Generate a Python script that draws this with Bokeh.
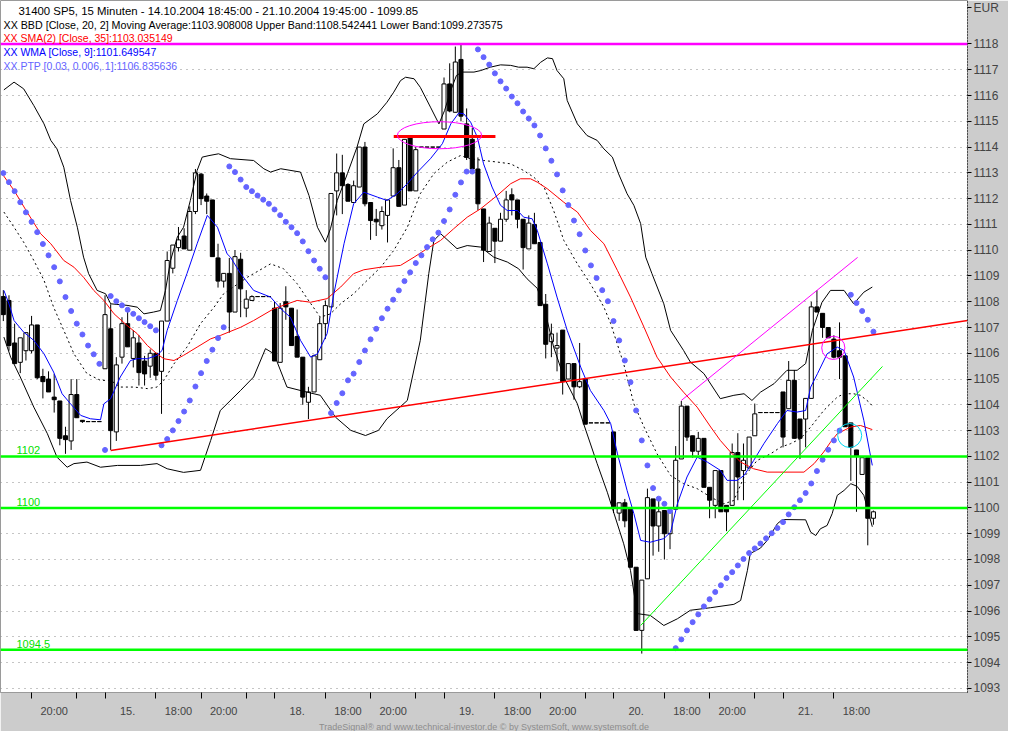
from bokeh.plotting import figure
from bokeh.models import Range1d, LinearAxis, FixedTicker, Span, Label, Title, Grid, ColumnDataSource
from bokeh.embed import file_html
from bokeh.resources import INLINE

# ---------------- data (bar index 0 = first bar of 15.10.) ----------------
BAR_START, BAR_END = -18, 136

O14 = [1108.2, 1108.05, 1106.4, 1105.65, 1106.1, 1106.1, 1107.1, 1105.1, 1105.0, 1104.3, 1104.15, 1102.8, 1102.6, 1104.4, 1103.4, 1103.35, 1103.35, 1103.35]
H14 = [1108.45, 1108.25, 1107.15, 1106.6, 1106.8, 1107.45, 1107.1, 1105.4, 1105.3, 1105.2, 1104.15, 1103.15, 1105.0, 1105.0, 1103.4, 1103.35, 1103.35, 1103.35]
L14 = [1107.25, 1106.1, 1105.6, 1105.23, 1105.72, 1106.0, 1105.0, 1104.25, 1104.5, 1103.7, 1102.43, 1102.1, 1102.25, 1103.5, 1103.3, 1103.35, 1103.35, 1103.35]
C14 = [1107.5, 1106.3, 1105.6, 1106.6, 1106.8, 1107.1, 1105.05, 1104.9, 1104.5, 1104.2, 1102.7, 1102.65, 1104.4, 1103.5, 1103.35, 1103.35, 1103.35, 1103.35]

O15 = [1105.4, 1106.95, 1102.95, 1105.85, 1107.15, 1105.8, 1106.4, 1105.7, 1105.5, 1106.0, 1105.3, 1107.25, 1109.3, 1110.1, 1110.55, 1110.0, 1111.5, 1112.95, 1112.1, 1111.95, 1109.7, 1108.8, 1109.1, 1107.6, 1109.65, 1107.75, 1108.05, 1108.2, 1108.2, 1108.2]
H15 = [1108.25, 1107.9, 1105.85, 1107.4, 1107.74, 1106.9, 1106.7, 1105.9, 1106.15, 1106.0, 1107.25, 1109.95, 1110.2, 1110.9, 1110.85, 1111.7, 1113.15, 1113.0, 1112.2, 1111.95, 1110.25, 1109.1, 1109.7, 1110.0, 1109.9, 1108.45, 1108.25, 1108.2, 1108.2, 1108.2]
L15 = [1105.4, 1102.25, 1102.6, 1105.6, 1106.25, 1105.45, 1104.75, 1104.75, 1105.05, 1104.95, 1103.65, 1107.25, 1109.1, 1109.95, 1110.05, 1110.0, 1111.4, 1111.75, 1111.4, 1109.75, 1108.55, 1108.55, 1106.8, 1107.6, 1107.4, 1107.4, 1108.05, 1108.2, 1108.2, 1108.2]
C15 = [1107.5, 1103.0, 1105.55, 1107.15, 1106.25, 1106.6, 1105.25, 1105.2, 1106.0, 1105.15, 1107.25, 1109.6, 1110.2, 1110.4, 1110.05, 1111.5, 1113.0, 1112.0, 1111.9, 1109.75, 1108.8, 1109.1, 1107.6, 1109.75, 1108.5, 1108.1, 1108.2, 1108.2, 1108.2, 1108.2]

O18 = [1107.75, 1105.65, 1108.0, 1107.75, 1106.65, 1105.85, 1104.1, 1104.5, 1105.75, 1107.15, 1107.8, 1112.3, 1113.0, 1112.55, 1111.85, 1112.45, 1114.0, 1111.85, 1111.2, 1110.95, 1111.35, 1112.1, 1113.2, 1111.75, 1114.4, 1112.3, 1114.0, 1114.0, 1114.0, 1114.0]
H18 = [1108.0, 1107.95, 1108.6, 1107.75, 1107.7, 1105.85, 1104.7, 1105.95, 1107.4, 1108.05, 1112.2, 1113.75, 1113.7, 1112.6, 1112.7, 1114.0, 1114.2, 1111.85, 1111.6, 1111.7, 1111.95, 1113.95, 1113.5, 1114.3, 1114.4, 1114.0, 1114.0, 1114.0, 1114.0, 1114.0]
L18 = [1105.7, 1105.65, 1107.3, 1106.3, 1105.85, 1104.0, 1103.45, 1104.5, 1105.75, 1106.55, 1107.8, 1111.35, 1111.4, 1111.9, 1111.85, 1112.45, 1111.7, 1110.4, 1110.55, 1110.8, 1110.3, 1112.1, 1111.7, 1111.75, 1112.3, 1112.3, 1114.0, 1114.0, 1114.0, 1114.0]
C18 = [1105.7, 1107.75, 1107.8, 1106.3, 1105.85, 1104.3, 1104.5, 1105.9, 1107.15, 1107.85, 1112.2, 1113.0, 1112.5, 1111.9, 1112.5, 1114.0, 1111.8, 1111.15, 1111.1, 1111.5, 1111.95, 1113.2, 1111.7, 1114.3, 1112.3, 1113.9, 1114.0, 1114.0, 1114.0, 1114.0]

O19 = [1114.7, 1116.45, 1115.35, 1117.4, 1114.9, 1114.3, 1113.15, 1111.6, 1109.95, 1110.85, 1110.35, 1111.2, 1112.15, 1111.95, 1111.2, 1110.05, 1111.0, 1110.3, 1107.9, 1106.45, 1106.2, 1106.9, 1105.0, 1105.6, 1104.7, 1105.0, 1103.3, 1103.3, 1103.3, 1103.3]
H19 = [1116.7, 1117.25, 1117.9, 1118.0, 1115.5, 1114.75, 1113.6, 1111.6, 1111.3, 1110.85, 1111.45, 1112.3, 1112.4, 1111.95, 1111.2, 1111.35, 1111.45, 1110.3, 1108.3, 1107.15, 1106.8, 1106.9, 1105.6, 1105.6, 1106.4, 1105.0, 1103.3, 1103.3, 1103.3, 1103.3]
L19 = [1114.7, 1115.35, 1115.35, 1115.0, 1113.5, 1113.05, 1111.55, 1109.54, 1109.95, 1109.5, 1110.35, 1111.1, 1111.35, 1110.85, 1109.25, 1110.05, 1110.25, 1107.85, 1105.8, 1105.85, 1105.3, 1104.4, 1105.0, 1104.2, 1104.65, 1103.25, 1103.3, 1103.3, 1103.3, 1103.3]
C19 = [1116.45, 1115.4, 1117.3, 1115.2, 1113.6, 1113.15, 1111.8, 1110.0, 1111.05, 1110.35, 1111.2, 1111.95, 1111.95, 1111.2, 1110.1, 1111.05, 1110.25, 1107.85, 1106.35, 1106.75, 1106.3, 1104.9, 1105.6, 1104.7, 1104.9, 1103.25, 1103.3, 1103.3, 1103.3, 1103.3]

O20 = [1102.95, 1099.8, 1100.2, 1100.0, 1097.7, 1095.25, 1097.25, 1100.35, 1099.3, 1099.9, 1099.0, 1099.95, 1101.9, 1103.95, 1102.8, 1102.2, 1102.7, 1100.8, 1100.1, 1101.45, 1100.1, 1100.1, 1102.15, 1101.45, 1101.55, 1102.8, 1103.7, 1103.7, 1103.7, 1103.7]
H20 = [1102.95, 1100.2, 1100.35, 1100.0, 1097.7, 1097.2, 1100.75, 1100.35, 1100.3, 1099.9, 1099.85, 1102.4, 1104.15, 1103.95, 1102.8, 1102.95, 1102.7, 1100.8, 1101.45, 1101.45, 1100.1, 1102.5, 1102.9, 1102.5, 1102.75, 1104.05, 1103.7, 1103.7, 1103.7, 1103.7]
L20 = [1099.8, 1099.5, 1099.25, 1097.7, 1095.25, 1094.35, 1097.25, 1098.15, 1098.3, 1098.0, 1098.4, 1099.95, 1101.9, 1102.6, 1101.95, 1102.05, 1100.8, 1099.6, 1099.6, 1099.85, 1099.1, 1100.1, 1100.3, 1100.3, 1101.55, 1102.8, 1103.7, 1103.7, 1103.7, 1103.7]
C20 = [1100.05, 1100.2, 1099.5, 1097.7, 1095.25, 1097.2, 1100.4, 1099.3, 1099.85, 1099.0, 1099.85, 1101.85, 1103.95, 1102.75, 1102.2, 1102.7, 1100.8, 1100.3, 1101.45, 1099.85, 1099.85, 1102.15, 1101.2, 1101.85, 1102.75, 1103.65, 1103.7, 1103.7, 1103.7, 1103.7]

O21 = [1104.5, 1103.85, 1104.95, 1103.45, 1103.45, 1104.25, 1107.8, 1107.55, 1107.0, 1106.55, 1106.1, 1105.9, 1103.3, 1102.25, 1101.3, 1101.95, 1099.6]
H21 = [1104.5, 1105.7, 1105.35, 1103.45, 1104.25, 1108.0, 1108.45, 1107.55, 1107.0, 1106.7, 1107.2, 1105.9, 1103.3, 1102.25, 1101.95, 1101.95, 1099.9]
L21 = [1102.35, 1103.85, 1102.7, 1101.9, 1102.35, 1104.25, 1107.6, 1106.6, 1106.6, 1105.8, 1105.0, 1103.15, 1101.05, 1099.85, 1101.3, 1098.55, 1099.35]
C21 = [1102.75, 1104.95, 1102.7, 1102.7, 1104.25, 1107.8, 1107.6, 1107.0, 1106.6, 1105.85, 1105.85, 1103.15, 1102.35, 1102.0, 1101.95, 1099.6, 1099.85]

OPEN = O14 + O15 + O18 + O19 + O20 + O21
HIGH = H14 + H15 + H18 + H19 + H20 + H21
LOW = L14 + L15 + L18 + L19 + L20 + L21
CLOSE = C14 + C15 + C18 + C19 + C20 + C21
BARS = list(range(BAR_START, BAR_END + 1))

# Bollinger bands (20, 2)
UB_G = [-17.9, -16.1, -14.4, -12.6, -10.8, -9.6, -8.5, -7.3, -6.1, -4.9, -3.8, -2.9, -1.4, 0.1, 1.0, 3.9, 5.7, 6.9, 8.6, 9.8, 10.7, 11.6, 12.8, 13.9, 15.1, 16.3, 17.2, 18.4, 20.1, 22.2, 26.3, 28.1, 29.3, 31.1, 34.6, 36.1, 37.6, 39.0, 39.9, 41.1, 42.9, 44.6, 45.8, 48.2, 49.9, 51.1, 52.3, 53.2, 54.7, 55.8, 57.6, 59.1, 60.1, 61.2, 62.2, 63.2, 65.3, 66.5, 68.2, 70.0, 71.8, 73.2, 74.7, 75.9, 77.1, 78.3, 79.2, 80.0, 81.2, 81.8, 83.6, 85.3, 87.1, 88.3, 89.8, 90.9, 92.4, 93.6, 94.8, 95.7, 96.8, 98.9, 100.1, 102.4, 103.6, 106.0, 108.9, 111.3, 113.1, 114.5, 116.0, 118.4, 120.7, 122.5, 124.0, 125.2, 126.9, 128.4, 130.8, 132.5, 134.3, 135.8]
UB_V = [1116.22, 1116.52, 1116.26, 1115.61, 1114.90, 1114.26, 1113.93, 1113.22, 1111.93, 1110.89, 1109.73, 1109.09, 1108.44, 1108.31, 1107.92, 1107.86, 1107.79, 1107.53, 1107.60, 1107.66, 1108.44, 1109.60, 1110.51, 1110.89, 1111.93, 1113.09, 1113.61, 1113.67, 1113.74, 1113.55, 1113.48, 1113.16, 1113.03, 1113.16, 1113.03, 1112.12, 1110.89, 1110.31, 1110.83, 1111.93, 1112.97, 1114.00, 1114.90, 1115.29, 1115.74, 1116.13, 1116.58, 1116.71, 1116.65, 1116.32, 1115.55, 1114.90, 1115.42, 1116.20, 1116.78, 1116.91, 1116.91, 1116.97, 1117.10, 1117.19, 1117.17, 1117.10, 1117.10, 1117.04, 1117.29, 1117.46, 1117.43, 1116.97, 1116.65, 1115.81, 1114.90, 1114.45, 1114.26, 1113.93, 1113.61, 1112.96, 1112.19, 1111.74, 1111.03, 1109.73, 1109.09, 1107.92, 1106.89, 1106.11, 1105.66, 1105.21, 1104.24, 1104.37, 1104.43, 1104.17, 1104.49, 1104.82, 1105.34, 1105.34, 1105.60, 1106.89, 1107.98, 1108.44, 1108.44, 1107.92, 1108.37, 1108.57]

LB_G = [-17.9, -16.7, -15.0, -12.6, -10.2, -8.5, -6.7, -5.5, -3.2, -0.8, 2.2, 6.3, 9.2, 11.0, 13.9, 16.9, 18.7, 20.4, 24.0, 26.3, 28.4, 29.9, 32.2, 35.8, 38.1, 40.8, 43.5, 46.1, 48.4, 49.9, 53.5, 55.8, 57.3, 58.2, 59.4, 62.3, 64.1, 66.5, 68.8, 71.2, 73.2, 74.7, 76.5, 77.7, 79.4, 81.2, 83.6, 84.7, 87.1, 88.9, 90.1, 91.8, 93.0, 94.2, 96.5, 98.9, 101.3, 103.6, 107.2, 111.3, 112.5, 113.7, 114.2, 116.0, 117.2, 119.0, 119.9, 124.0, 124.9, 125.8, 126.6, 127.8, 128.7, 129.6, 130.8, 132.0, 133.1, 134.3, 135.8]
LB_V = [1106.63, 1105.85, 1105.08, 1103.91, 1102.88, 1101.97, 1101.58, 1101.72, 1101.78, 1101.58, 1101.65, 1101.65, 1101.72, 1101.52, 1101.38, 1101.46, 1102.62, 1103.78, 1104.56, 1105.08, 1106.18, 1105.98, 1104.69, 1104.49, 1104.37, 1103.52, 1103.01, 1102.81, 1103.01, 1103.46, 1104.17, 1106.50, 1109.09, 1110.38, 1110.64, 1110.06, 1110.18, 1110.12, 1109.73, 1109.54, 1109.28, 1108.89, 1108.52, 1107.79, 1106.24, 1105.08, 1104.04, 1103.27, 1101.72, 1100.61, 1099.78, 1098.61, 1097.58, 1095.90, 1095.83, 1095.44, 1095.70, 1096.03, 1096.13, 1096.26, 1096.41, 1097.58, 1098.23, 1098.44, 1098.74, 1099.39, 1099.55, 1099.54, 1099.06, 1098.93, 1099.19, 1099.32, 1099.78, 1100.49, 1100.68, 1100.94, 1100.84, 1100.49, 1099.27]

MID_G = [-17.9, -16.1, -14.4, -12.6, -10.8, -9.1, -7.3, -5.5, -3.2, -0.8, 1.0, 2.7, 5.1, 7.5, 9.2, 10.4, 12.2, 14.5, 16.9, 19.3, 21.0, 25.2, 29.3, 31.6, 34.0, 35.8, 38.1, 39.9, 41.7, 44.0, 46.4, 48.8, 51.1, 53.5, 55.8, 58.2, 60.6, 62.9, 64.7, 67.0, 69.4, 71.8, 74.1, 75.9, 77.7, 79.4, 81.2, 83.6, 85.9, 88.3, 89.5, 91.8, 93.6, 95.4, 97.7, 100.1, 102.4, 104.8, 107.2, 109.5, 111.3, 113.1, 115.4, 117.8, 119.6, 121.3, 123.1, 124.9, 127.2, 129.6, 130.8, 132.5, 133.7, 135.2, 136.0]
MID_V = [1111.48, 1110.89, 1110.31, 1109.60, 1108.83, 1107.79, 1106.89, 1105.98, 1105.21, 1104.95, 1104.95, 1104.69, 1104.69, 1104.63, 1104.69, 1104.95, 1105.59, 1106.24, 1107.15, 1107.79, 1108.31, 1108.95, 1109.47, 1109.28, 1108.70, 1108.12, 1107.40, 1107.53, 1107.92, 1108.31, 1108.83, 1109.34, 1109.99, 1110.89, 1112.19, 1112.97, 1113.42, 1113.67, 1113.55, 1113.48, 1113.42, 1113.35, 1113.09, 1112.83, 1112.45, 1111.54, 1110.38, 1109.47, 1108.70, 1107.79, 1107.15, 1105.59, 1104.04, 1103.14, 1102.10, 1101.26, 1100.94, 1100.75, 1100.42, 1100.16, 1100.29, 1101.20, 1101.84, 1102.10, 1102.36, 1102.49, 1102.69, 1103.14, 1103.78, 1104.30, 1104.43, 1104.43, 1104.37, 1104.11, 1103.91]

# SMA 35 (red)
SMA_G = [-18.0, -16.1, -13.8, -11.4, -9.6, -7.3, -5.5, -3.8, -2.0, -0.2, 1.6, 3.9, 5.7, 7.5, 9.2, 10.4, 12.2, 13.9, 16.3, 18.7, 20.4, 24.0, 26.3, 29.9, 34.0, 36.4, 39.3, 41.7, 44.0, 45.8, 48.8, 52.3, 54.7, 57.0, 59.4, 61.7, 64.1, 66.5, 69.4, 71.8, 73.5, 75.3, 76.5, 78.3, 81.2, 83.6, 85.9, 88.3, 90.7, 93.0, 95.4, 97.7, 100.1, 102.4, 104.8, 107.2, 108.9, 110.7, 112.5, 114.8, 117.2, 123.7, 125.5, 127.2, 128.4, 129.6, 132.0, 133.7, 135.8]
SMA_V = [1112.90, 1112.32, 1111.48, 1110.64, 1110.25, 1109.60, 1109.34, 1108.95, 1108.44, 1108.05, 1107.53, 1107.08, 1106.76, 1106.30, 1105.98, 1105.79, 1105.72, 1105.92, 1106.24, 1106.56, 1106.69, 1107.01, 1107.27, 1107.73, 1108.05, 1107.98, 1108.12, 1108.57, 1109.09, 1109.24, 1109.34, 1109.41, 1109.73, 1110.06, 1110.38, 1110.83, 1111.28, 1111.61, 1112.12, 1112.58, 1112.77, 1112.77, 1112.64, 1112.38, 1111.86, 1111.48, 1110.77, 1110.25, 1109.21, 1108.18, 1107.01, 1105.85, 1105.08, 1104.49, 1103.91, 1103.14, 1102.62, 1102.17, 1101.78, 1101.52, 1101.39, 1101.39, 1101.72, 1102.17, 1102.55, 1102.88, 1103.14, 1103.20, 1103.04]

# WMA 9 (blue)
WMA_G = [-17.9, -17.0, -16.1, -14.4, -12.6, -10.8, -9.1, -7.6, -6.1, -4.3, -2.6, -0.8, -0.2, 1.0, 2.7, 4.5, 5.7, 7.5, 9.2, 10.1, 11.0, 12.8, 14.5, 16.3, 18.1, 19.9, 21.6, 22.2, 24.0, 26.3, 29.3, 31.1, 32.8, 34.6, 36.4, 37.6, 39.3, 40.5, 42.3, 44.0, 45.8, 48.2, 49.9, 51.7, 53.5, 55.3, 57.6, 59.7, 61.2, 62.6, 63.5, 64.7, 65.9, 67.0, 68.5, 70.0, 71.2, 73.0, 74.1, 75.6, 76.5, 78.3, 80.0, 81.8, 84.2, 85.9, 88.3, 89.5, 90.7, 92.4, 93.6, 94.8, 96.5, 98.9, 100.1, 101.3, 103.0, 104.8, 106.6, 108.9, 110.1, 111.9, 113.1, 114.8, 116.6, 119.0, 120.7, 122.5, 124.0, 124.9, 126.1, 127.8, 129.6, 130.8, 132.5, 134.3, 135.8]
WMA_V = [1108.44, 1107.92, 1107.27, 1106.82, 1106.50, 1105.98, 1105.27, 1104.43, 1104.04, 1103.59, 1103.46, 1103.42, 1104.04, 1104.24, 1105.08, 1105.72, 1105.79, 1105.79, 1105.92, 1106.11, 1106.89, 1108.05, 1109.09, 1110.25, 1111.35, 1110.89, 1109.86, 1109.73, 1109.09, 1108.44, 1108.18, 1107.73, 1107.40, 1106.50, 1105.85, 1105.98, 1106.76, 1108.31, 1110.25, 1111.80, 1112.25, 1112.06, 1111.93, 1112.19, 1112.58, 1113.03, 1113.55, 1114.13, 1114.90, 1115.32, 1115.29, 1114.97, 1114.38, 1113.35, 1112.45, 1111.74, 1111.54, 1111.54, 1111.28, 1111.22, 1110.77, 1109.47, 1108.18, 1106.89, 1105.46, 1104.56, 1103.78, 1103.27, 1102.10, 1100.68, 1099.78, 1098.74, 1098.67, 1098.81, 1099.06, 1100.16, 1101.20, 1101.97, 1101.78, 1101.46, 1101.07, 1101.07, 1101.26, 1101.84, 1102.49, 1103.27, 1103.78, 1103.72, 1103.78, 1104.69, 1105.21, 1105.98, 1106.24, 1106.11, 1105.08, 1103.40, 1101.65]

# Parabolic SAR (PTP)
PSAR_G = list(range(-18, 22)) + list(range(22, 40)) + list(range(40, 66)) + list(range(66, 101)) + list(range(101, 131)) + list(range(132, 137))
PSAR_V = [1112.99, 1112.64, 1112.29, 1111.86, 1111.47, 1111.10, 1110.70, 1110.24, 1109.80, 1109.34, 1108.79, 1108.18, 1107.64, 1107.15, 1106.73, 1106.30, 1105.96, 1105.59,
          1102.25, 1108.22, 1108.02, 1107.86, 1107.69, 1107.53, 1107.36, 1107.21, 1107.05, 1106.89, 1102.43, 1102.67, 1103.01, 1103.37, 1103.74, 1104.17, 1104.71, 1105.23, 1105.70, 1106.14, 1106.59, 1107.01,
          1113.25, 1113.03, 1112.74, 1112.45, 1112.29, 1112.12, 1111.96, 1111.80, 1111.58, 1111.36, 1111.10, 1110.89, 1110.66, 1110.34, 1109.96, 1109.60, 1109.28, 1108.95,
          1103.68, 1104.07, 1104.45, 1104.95, 1105.21, 1105.66, 1106.11, 1106.54, 1106.95, 1107.36, 1107.73, 1108.08, 1108.44, 1108.80, 1109.14, 1109.50, 1109.80, 1110.12, 1110.42, 1110.68, 1111.13, 1111.58, 1112.15, 1112.63, 1113.05, 1113.05,
          1117.79, 1117.49, 1117.20, 1116.86, 1116.55, 1116.27, 1115.96, 1115.70, 1115.38, 1115.11, 1114.84, 1114.45, 1113.95, 1113.47, 1112.94, 1112.32, 1111.75, 1111.15, 1110.62, 1109.99, 1109.41, 1108.92, 1108.45, 1108.02, 1107.25, 1106.50, 1105.72, 1104.88, 1103.78, 1102.62, 1101.65, 1100.77, 1100.36, 1100.16, 1099.88,
          1094.56, 1094.90, 1095.25, 1095.57, 1095.87, 1096.18, 1096.46, 1096.74, 1097.00, 1097.28, 1097.51, 1097.77, 1098.02, 1098.25, 1098.43, 1098.62, 1098.82, 1099.02, 1099.22, 1099.45, 1099.75, 1100.03, 1100.30, 1100.58, 1100.95, 1101.43, 1101.87, 1102.26, 1102.62, 1103.00,
          1108.27, 1107.95, 1107.64, 1107.30, 1106.84]

# drawing tools
LEVEL_MAGENTA = 1118.0
LEVELS_GREEN = [1102.0, 1100.0, 1094.5]
LEVEL_TEXTS = ["1102", "1100", "1094.5"]
RED_TREND_G = [1.0, 152.65]
RED_TREND_V = [1102.23, 1107.27]
MAG_TREND_G = [102.0, 133.2]
MAG_TREND_V = [1104.17, 1109.72]
GREEN_TREND_G = [94.8, 137.6]
GREEN_TREND_V = [1095.44, 1105.49]
RED_HLINE_G = [51.1, 69.1]
RED_HLINE_V = [1114.41, 1114.41]
ELLIPSES = dict(g=[59.2, 128.9, 131.8], v=[1114.46, 1106.21, 1102.81], w=[14.9, 4.1, 4.25], h=[1.05, 0.9, 0.93],
                color=["#ff00ff", "#ff00ff", "#00d8f0"])

# axes
Y_TICKS = list(range(1093, 1119))
CURRENCY_POS = 1119.4
X_TICKS = [-13, -5, 0, 9, 17, 25, 30, 39, 47, 55, 60, 69, 77, 85, 90, 99, 107, 115, 120, 129]
X_LABEL_TICKS = [-13, 0, 9, 17, 30, 39, 47, 60, 69, 77, 90, 99, 107, 120, 129]
X_LABELS = ["20:00", "15.", "18:00", "20:00", "18.", "18:00", "20:00", "19.", "18:00", "20:00", "20.", "18:00", "20:00", "21.", "18:00"]

HEADER = [
    ("31400  SP5, 15 Minuten - 14.10.2004 18:45:00 - 21.10.2004 19:45:00 - 1099.85", "black", 18, "11.4px"),
    ("XX BBD [Close, 20, 2] Moving Average:1103.908008 Upper Band:1108.542441 Lower Band:1099.273575", "black", 3, "10.7px"),
    ("XX SMA(2) [Close, 35]:1103.035149", "#ff0000", 3, "10.5px"),
    ("XX WMA [Close, 9]:1101.649547", "#0000ff", 3, "10.5px"),
    ("XX PTP [0.03, 0.006, 1]:1106.835636", "#6464ff", 3, "10.5px"),
]
FOOTER = "TradeSignal\u00ae and www.technical-investor.de \u00a9 by SystemSoft, www.systemsoft.de"

# ---------------- figure ----------------
FW, FH = 967, 692
FONT = "Liberation Sans"
PANEL = "#cccccc"
LABEL_SHIFT = 4

p = figure(frame_width=FW, frame_height=FH,
           x_range=Range1d(-18.5, 152.65), y_range=Range1d(1092.84, 1119.687),
           output_backend="svg", toolbar_location=None,
           x_axis_location=None, y_axis_location=None,
           min_border_left=0, min_border_top=0, min_border_right=41, min_border_bottom=0,
           background_fill_color="white", border_fill_color=PANEL, outline_line_color="#9a9a9a")
for gr in p.grid:
    gr.visible = False

p.add_layout(Grid(dimension=1, ticker=FixedTicker(ticks=Y_TICKS), grid_line_color="#8a8a8a",
                  grid_line_dash="1 5", grid_line_width=1))

# candles
top = [max(o, c) for o, c in zip(OPEN, CLOSE)]
bot = [min(o, c) for o, c in zip(OPEN, CLOSE)]
fill = ["white" if c >= o else "black" for o, c in zip(OPEN, CLOSE)]
src = ColumnDataSource(dict(g=BARS, h=HIGH, l=LOW, top=top, bot=bot, fill=fill))
p.segment(x0="g", y0="h", x1="g", y1="l", line_color="black", line_width=1, source=src)
p.vbar(x="g", width=0.72, top="top", bottom="bot", fill_color="fill", line_color="black", line_width=1, source=src)

# indicators
p.line(UB_G, UB_V, line_color="black", line_width=1)
p.line(LB_G, LB_V, line_color="black", line_width=1)
p.line(MID_G, MID_V, line_color="black", line_width=1, line_dash="2 3")
p.line(SMA_G, SMA_V, line_color="#ff0000", line_width=1)
p.line(WMA_G, WMA_V, line_color="#0000ff", line_width=1)
p.scatter(PSAR_G, PSAR_V, marker="circle", size=5, fill_color="#6464ff", line_color="#6464ff")

# levels / trend lines
p.add_layout(Span(location=LEVEL_MAGENTA, dimension="width", line_color="#ff00ff", line_width=2.5))
for lv, txt in zip(LEVELS_GREEN, LEVEL_TEXTS):
    p.add_layout(Span(location=lv, dimension="width", line_color="#00ff00", line_width=2.5))
    p.add_layout(Label(x=16, x_units="screen", y=lv, text=txt, text_color="#00e000",
                       text_font=FONT, text_font_size="11px", text_baseline="bottom", y_offset=2))
p.line(RED_TREND_G, RED_TREND_V, line_color="#ff0000", line_width=1.5)
p.line(MAG_TREND_G, MAG_TREND_V, line_color="#ff00ff", line_width=1)
p.line(GREEN_TREND_G, GREEN_TREND_V, line_color="#00ff00", line_width=1)
p.line(RED_HLINE_G, RED_HLINE_V, line_color="#ff0000", line_width=3)
p.ellipse(x=ELLIPSES["g"], y=ELLIPSES["v"], width=ELLIPSES["w"], height=ELLIPSES["h"],
          fill_color=None, line_color=ELLIPSES["color"], line_width=1)

# header texts
ys = [10, 24, 37, 51, 65]
for (txt, col, x0, fs), yy in zip(HEADER, ys):
    p.add_layout(Label(x=x0, y=FH - yy, x_units="screen", y_units="screen", text=txt, text_color=col,
                       text_font=FONT, text_font_size=fs, text_baseline="middle"))

# axes
y_overrides = {CURRENCY_POS: "EUR"}
yax = LinearAxis(ticker=FixedTicker(ticks=Y_TICKS + [CURRENCY_POS]), major_label_overrides=y_overrides,
                 axis_line_color="black", axis_line_dash="1 2",
                 major_tick_out=4, major_tick_in=0, major_tick_line_color="black", minor_tick_line_color=None,
                 major_label_text_font=FONT, major_label_text_font_size="12px", major_label_standoff=2)
p.add_layout(yax, "right")

xt = LinearAxis(ticker=FixedTicker(ticks=X_TICKS), major_label_overrides={t: "" for t in X_TICKS},
                major_tick_out=6, major_tick_in=0, major_tick_line_color="black", minor_tick_line_color=None,
                axis_line_color="#9a9a9a", major_label_text_font_size="1px", major_label_standoff=0)
p.add_layout(xt, "below")

lab_pos = [t + LABEL_SHIFT for t in X_LABEL_TICKS]
xl = LinearAxis(ticker=FixedTicker(ticks=lab_pos), major_label_overrides=dict(zip(lab_pos, X_LABELS)),
                major_tick_line_color=None, minor_tick_line_color=None, axis_line_color=None,
                major_label_text_font=FONT, major_label_text_font_size="11px", major_label_standoff=0)
p.add_layout(xl, "below")

p.add_layout(Title(text=FOOTER, align="center", text_font=FONT, text_font_size="9px",
                   text_color="#8c8c8c", text_font_style="normal", standoff=0), "below")

open("out.html", "w").write(file_html(p, INLINE))
